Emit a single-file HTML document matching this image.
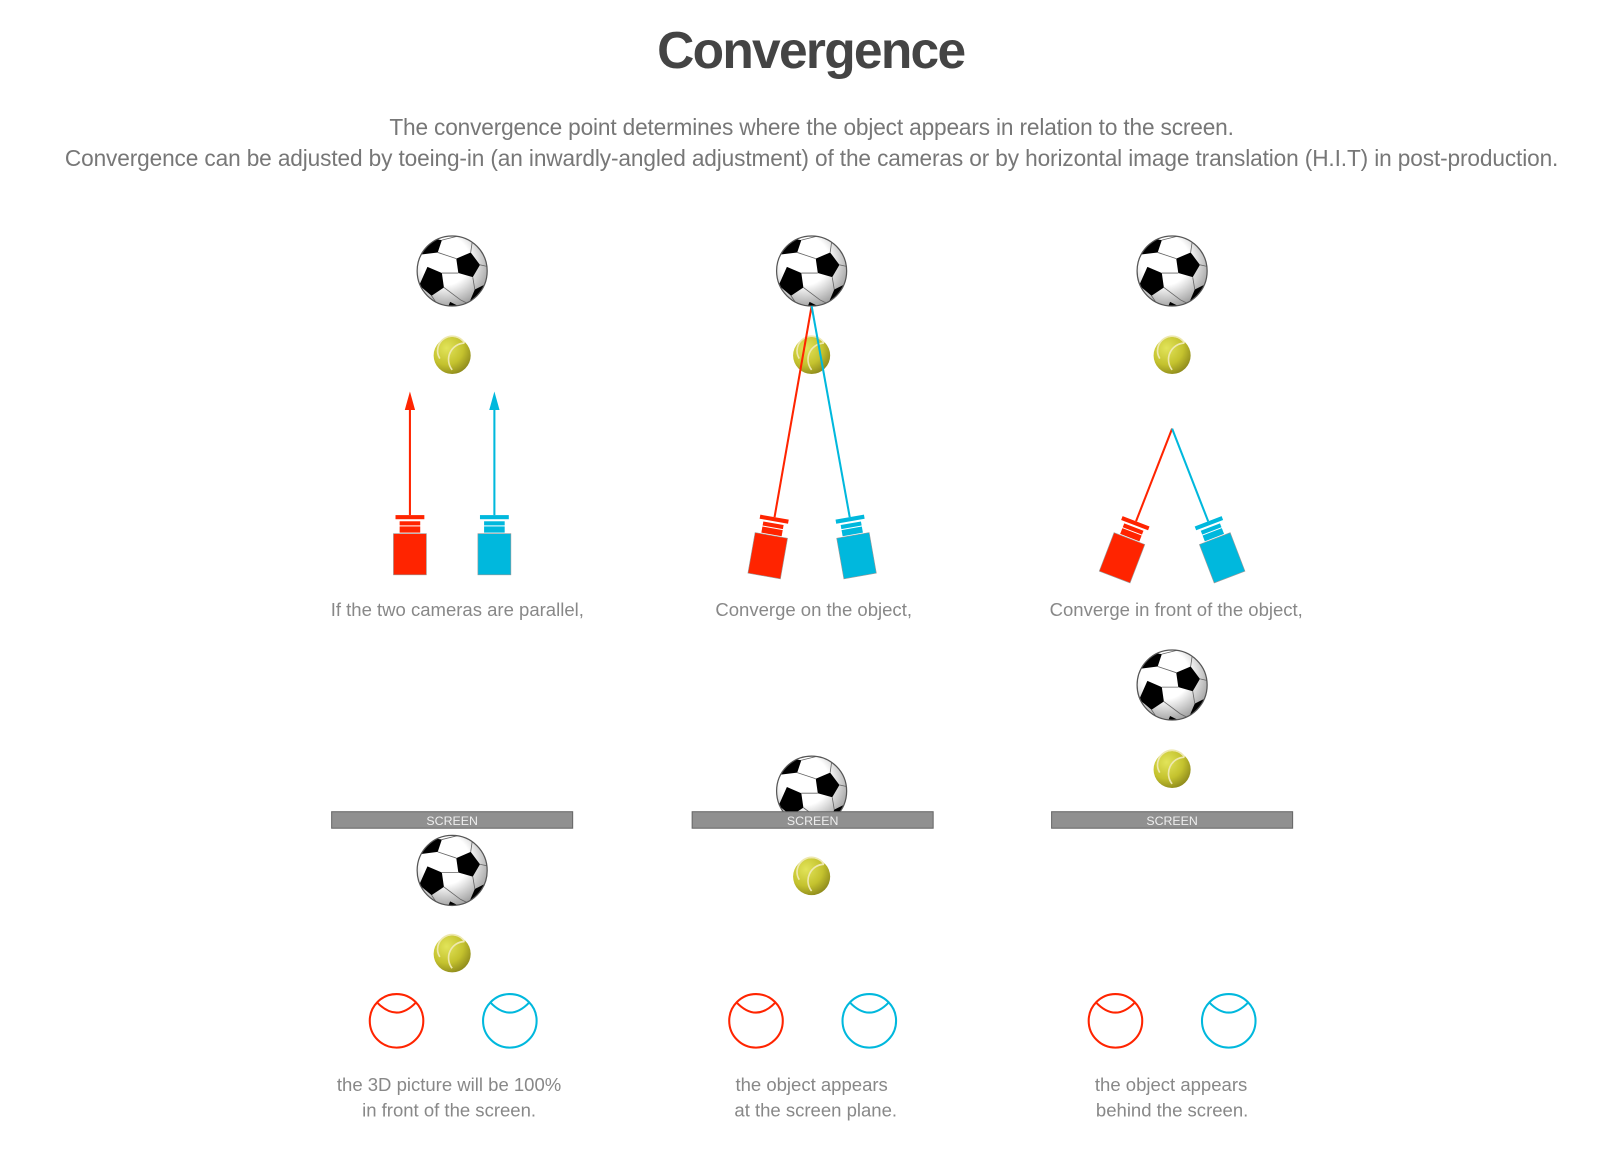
<!DOCTYPE html>
<html><head><meta charset="utf-8"><style>
body{margin:0;background:#fff;width:1615px;height:1161px;overflow:hidden;font-family:"Liberation Sans",sans-serif}
svg{display:block}
</style></head><body>
<svg width="1615" height="1161" viewBox="0 0 1568 1127">
<defs>
<radialGradient id="sg" cx="0.4" cy="0.35" r="0.7"><stop offset="0.5" stop-color="#fff"/><stop offset="1" stop-color="#9a9a9a"/></radialGradient>
<radialGradient id="tg" cx="0.35" cy="0.3" r="0.75"><stop offset="0" stop-color="#e2e45a"/><stop offset="0.6" stop-color="#c4c22e"/><stop offset="1" stop-color="#8e8a1c"/></radialGradient>
<clipPath id="sc"><circle cx="0" cy="0" r="34"/></clipPath>
<symbol id="soccer" overflow="visible">
<g clip-path="url(#sc)">
<circle r="34" fill="url(#sg)"/>
<polygon points="4,-12 18,-18 27,-6 20,6 6,2" fill="#000"/>
<polygon points="-24,-4 -10,2 -8,16 -20,24 -32,14" fill="#000"/>
<polygon points="-24,-32 -10,-30 -14,-18 -30,-16" fill="#000"/>
<polygon points="22,18 34,12 32,34 16,32" fill="#000"/>
<polygon points="-2,30 10,36 -6,40" fill="#000"/>
<path d="M6,2 L-10,2 M-14,-18 L4,-12 M-10,-30 L6,-34 M18,-18 L20,-32 M27,-6 L36,-4 M20,6 L22,18 M-8,16 L8,28 L16,32 M-20,24 L-12,36 M-30,-16 L-36,-10" stroke="#666" stroke-width="0.8" fill="none"/>
</g>
<circle r="34" fill="none" stroke="#555" stroke-width="1.2"/>
</symbol>
<symbol id="tennis" overflow="visible">
<circle r="18" fill="url(#tg)"/>
<path d="M16,-10 A16,16 0 0 0 4,16 M16,-10 A13,13 0 0 0 -8,5" stroke="#eee8b0" stroke-width="1.6" fill="none" transform="translate(-4,-2)"/>
</symbol>
<symbol id="camR" overflow="visible">
<rect x="-14" y="0" width="28" height="4" fill="#ff2400"/>
<rect x="-10" y="6" width="20" height="4" fill="#ff2400"/>
<rect x="-10" y="11" width="20" height="6" fill="#ff2400"/>
<rect x="-16" y="18" width="32" height="40" fill="#ff2400" stroke="#999" stroke-width="0.6"/>
</symbol>
<symbol id="camB" overflow="visible">
<rect x="-14" y="0" width="28" height="4" fill="#00b8dd"/>
<rect x="-10" y="6" width="20" height="4" fill="#00b8dd"/>
<rect x="-10" y="11" width="20" height="6" fill="#00b8dd"/>
<rect x="-16" y="18" width="32" height="40" fill="#00b8dd" stroke="#999" stroke-width="0.6"/>
</symbol>
<symbol id="eyeR" overflow="visible"><circle r="26" fill="none" stroke="#ff2400" stroke-width="2"/><path d="M-19,-18 Q0,2 19,-18" fill="none" stroke="#ff2400" stroke-width="2"/></symbol>
<symbol id="eyeB" overflow="visible"><circle r="26" fill="none" stroke="#00b8dd" stroke-width="2"/><path d="M-19,-18 Q0,2 19,-18" fill="none" stroke="#00b8dd" stroke-width="2"/></symbol>
</defs>

<text x="788" y="66" text-anchor="middle" font-size="50" font-weight="bold" fill="#444" textLength="300">Convergence</text>
<text x="788" y="131" text-anchor="middle" font-size="22" fill="#777" textLength="820">The convergence point determines where the object appears in relation to the screen.</text>
<text x="788" y="161" text-anchor="middle" font-size="22" fill="#777" textLength="1450">Convergence can be adjusted by toeing-in (an inwardly-angled adjustment) of the cameras or by horizontal image translation (H.I.T) in post-production.</text>

<g>
<use href="#soccer" x="439" y="263"/><use href="#tennis" x="439" y="345"/>
<line x1="398" y1="500" x2="398" y2="395" stroke="#ff2400" stroke-width="2"/><polygon points="398,380 393,398 403,398" fill="#ff2400"/>
<line x1="480" y1="500" x2="480" y2="395" stroke="#00b8dd" stroke-width="2"/><polygon points="480,380 475,398 485,398" fill="#00b8dd"/>
<use href="#camR" x="398" y="500"/><use href="#camB" x="480" y="500"/>
<text x="444" y="598" text-anchor="middle" font-size="18" fill="#888">If the two cameras are parallel,</text>
</g>
<g>
<use href="#soccer" x="788" y="263"/><use href="#tennis" x="788" y="345"/>
<line x1="788" y1="297" x2="752" y2="502" stroke="#ff2400" stroke-width="2"/>
<line x1="788" y1="297" x2="825" y2="502" stroke="#00b8dd" stroke-width="2"/>
<g transform="translate(752,502) rotate(10)"><use href="#camR"/></g>
<g transform="translate(825,502) rotate(-10)"><use href="#camB"/></g>
<text x="790" y="598" text-anchor="middle" font-size="18" fill="#888">Converge on the object,</text>
</g>
<g>
<use href="#soccer" x="1138" y="263"/><use href="#tennis" x="1138" y="345"/>
<line x1="1138" y1="416" x2="1103" y2="506" stroke="#ff2400" stroke-width="2"/>
<line x1="1138" y1="416" x2="1173" y2="506" stroke="#00b8dd" stroke-width="2"/>
<g transform="translate(1103,506) rotate(21)"><use href="#camR"/></g>
<g transform="translate(1173,506) rotate(-21)"><use href="#camB"/></g>
<text x="1142" y="598" text-anchor="middle" font-size="18" fill="#888">Converge in front of the object,</text>
</g>

<g>
<rect x="322" y="788" width="234" height="16" fill="#909090" stroke="#666"/>
<text x="439" y="801" text-anchor="middle" font-size="12" fill="#eee">SCREEN</text>
<use href="#soccer" x="439" y="845"/><use href="#tennis" x="439" y="926"/>
<use href="#eyeR" x="385" y="991"/><use href="#eyeB" x="495" y="991"/>
<text x="436" y="1059" text-anchor="middle" font-size="18" fill="#888">the 3D picture will be 100%</text>
<text x="436" y="1084" text-anchor="middle" font-size="18" fill="#888">in front of the screen.</text>
</g>
<g>
<use href="#soccer" x="788" y="768"/>
<rect x="672" y="788" width="234" height="16" fill="#909090" stroke="#666"/>
<text x="789" y="801" text-anchor="middle" font-size="12" fill="#eee">SCREEN</text>
<use href="#tennis" x="788" y="851"/>
<use href="#eyeR" x="734" y="991"/><use href="#eyeB" x="844" y="991"/>
<text x="788" y="1059" text-anchor="middle" font-size="18" fill="#888">the object appears</text>
<text x="792" y="1084" text-anchor="middle" font-size="18" fill="#888">at the screen plane.</text>
</g>
<g>
<use href="#soccer" x="1138" y="665"/><use href="#tennis" x="1138" y="747"/>
<rect x="1021" y="788" width="234" height="16" fill="#909090" stroke="#666"/>
<text x="1138" y="801" text-anchor="middle" font-size="12" fill="#eee">SCREEN</text>
<use href="#eyeR" x="1083" y="991"/><use href="#eyeB" x="1193" y="991"/>
<text x="1137" y="1059" text-anchor="middle" font-size="18" fill="#888">the object appears</text>
<text x="1138" y="1084" text-anchor="middle" font-size="18" fill="#888">behind the screen.</text>
</g>
</svg>
</body></html>
